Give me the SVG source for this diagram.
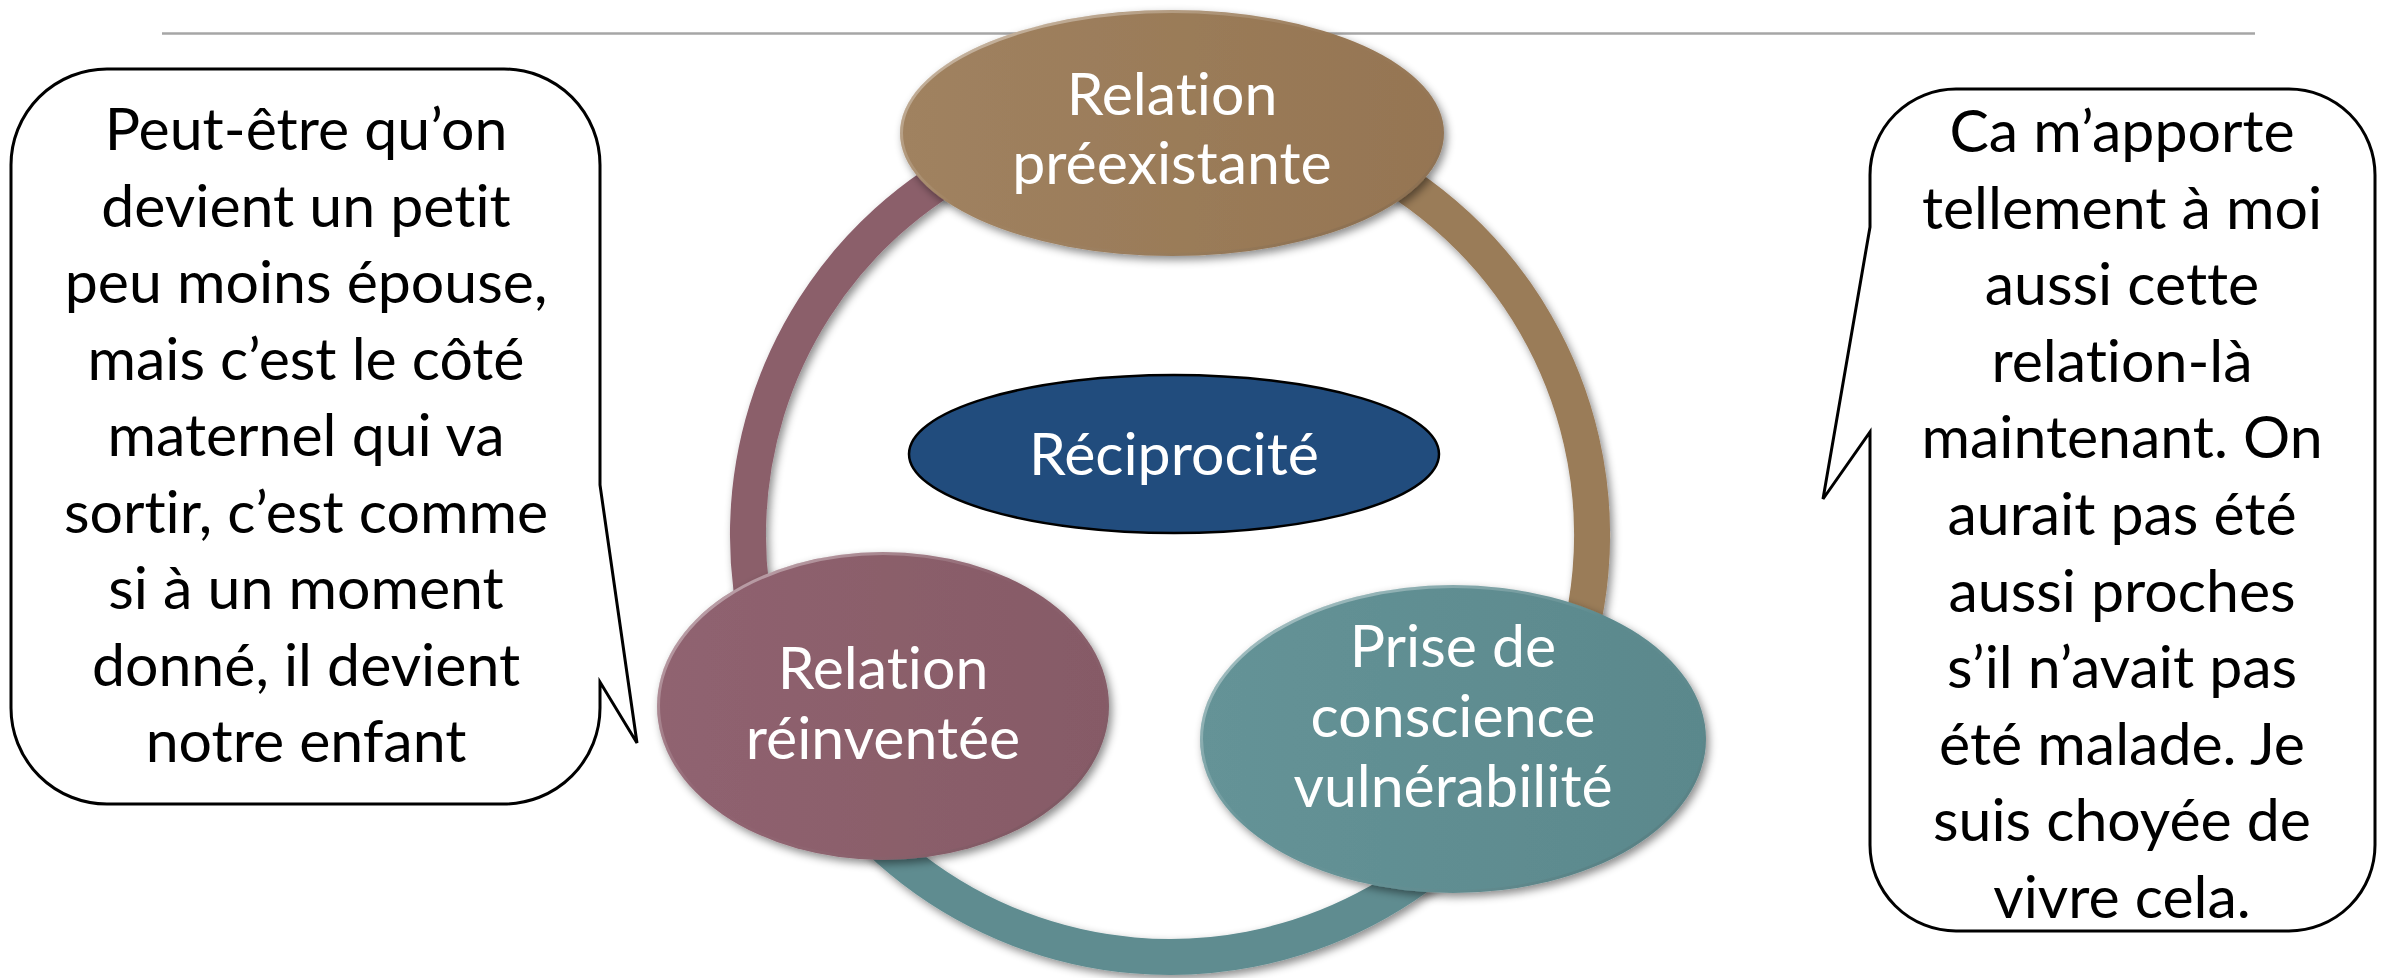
<svg xmlns="http://www.w3.org/2000/svg" width="2384" height="978" viewBox="0 0 2384 978">
<style>
.t{font-family:Lato,"Open Sans",sans-serif;font-size:59px;text-anchor:middle;font-variant-ligatures:none;font-feature-settings:"liga" 0,"clig" 0,"dlig" 0}
.blk{fill:#000}
.wht{fill:#fff}
.bubble{fill:#fff;stroke:#000;stroke-width:3;stroke-linejoin:miter}
.arc{fill:none;stroke-width:36;filter:url(#sh)}
.node{filter:url(#sh)}
.rim{fill:none;stroke:url(#rim);stroke-width:3}
</style>
<defs>
<filter id="sh" x="-20%" y="-20%" width="140%" height="140%">
<feDropShadow dx="3" dy="4" stdDeviation="4" flood-color="#000" flood-opacity="0.45"/>
</filter>
<linearGradient id="rim" x1="0" y1="0" x2="1" y2="1">
<stop offset="0" stop-color="#fff" stop-opacity="0.55"/>
<stop offset="0.45" stop-color="#fff" stop-opacity="0"/>
<stop offset="1" stop-color="#000" stop-opacity="0.15"/>
</linearGradient>
<linearGradient id="gBrown" x1="0" y1="0" x2="1" y2="0">
<stop offset="0" stop-color="#A08260"/>
<stop offset="1" stop-color="#957552"/>
</linearGradient>
<linearGradient id="gMauve" x1="0" y1="0" x2="1" y2="0">
<stop offset="0" stop-color="#906370"/>
<stop offset="1" stop-color="#865A66"/>
</linearGradient>
<linearGradient id="gTeal" x1="0" y1="0" x2="1" y2="0">
<stop offset="0" stop-color="#659397"/>
<stop offset="1" stop-color="#5A888C"/>
</linearGradient>
</defs>
<rect width="2384" height="978" fill="#fff"/>
<line x1="162" y1="33.5" x2="2255" y2="33.5" stroke="#A6A6A6" stroke-width="2.5"/>
<g id="connectors">
<path class="arc" stroke="#5E8C90" d="M 1535.5,746 A 422 422 0 0 1 773.5,679.3"/>
<path class="arc" stroke="#8B5E6B" d="M 804.5,746 A 422 422 0 0 1 1206.8,114.6"/>
<path class="arc" stroke="#9A7B58" d="M 1096.7,119.4 A 422 422 0 0 1 1493.3,806.3"/>
</g>
<g id="node-preexistante">
<ellipse class="node" cx="1172" cy="133" rx="272" ry="123" fill="url(#gBrown)"/>
<ellipse class="rim" cx="1172" cy="133" rx="270.5" ry="121.5"/>
<text class="t wht" x="1172" y="115">Relation</text>
<text class="t wht" x="1172" y="184">préexistante</text>
</g>
<g id="node-reinventee">
<ellipse class="node" cx="883" cy="706" rx="226" ry="154" fill="url(#gMauve)"/>
<ellipse class="rim" cx="883" cy="706" rx="224.5" ry="152.5"/>
<text class="t wht" x="883" y="689">Relation</text>
<text class="t wht" x="883" y="759">réinventée</text>
</g>
<g id="node-vulnerabilite">
<ellipse class="node" cx="1453" cy="739" rx="253" ry="154" fill="url(#gTeal)"/>
<ellipse class="rim" cx="1453" cy="739" rx="251.5" ry="152.5"/>
<text class="t wht" x="1453" y="667">Prise de</text>
<text class="t wht" x="1453" y="737">conscience</text>
<text class="t wht" x="1453" y="807">vulnérabilité</text>
</g>
<g id="node-reciprocite">
<ellipse cx="1174" cy="454" rx="265" ry="79" fill="#214C7D" stroke="#000" stroke-width="2.5"/>
<text class="t wht" x="1174" y="475">Réciprocité</text>
</g>
<g id="bubble-left">
<path class="bubble" d="M 107,69 H 504 A 96 96 0 0 1 600,165 V 485 L 637,743 L 600,682 V 708 A 96 96 0 0 1 504,804 H 107 A 96 96 0 0 1 11,708 V 165 A 96 96 0 0 1 107,69 Z"/>
<text class="t blk" x="306" y="150">Peut-être qu’on</text>
<text class="t blk" x="306" y="226.5">devient un petit</text>
<text class="t blk" x="306" y="303">peu moins épouse,</text>
<text class="t blk" x="306" y="379.5">mais c’est le côté</text>
<text class="t blk" x="306" y="456">maternel qui va</text>
<text class="t blk" x="306" y="532.5">sortir, c’est comme</text>
<text class="t blk" x="306" y="609">si à un moment</text>
<text class="t blk" x="306" y="685.5">donné, il devient</text>
<text class="t blk" x="306" y="762">notre enfant</text>
</g>
<g id="bubble-right">
<path class="bubble" d="M 1956,89 H 2289 A 86 86 0 0 1 2375,175 V 845 A 86 86 0 0 1 2289,931 H 1956 A 86 86 0 0 1 1870,845 V 432 L 1823,499 L 1870,227 V 175 A 86 86 0 0 1 1956,89 Z"/>
<text class="t blk" x="2122" y="152">Ca m’apporte</text>
<text class="t blk" x="2122" y="228.6">tellement à moi</text>
<text class="t blk" x="2122" y="305.2">aussi cette</text>
<text class="t blk" x="2122" y="381.8">relation-là</text>
<text class="t blk" x="2122" y="458.4">maintenant. On</text>
<text class="t blk" x="2122" y="535">aurait pas été</text>
<text class="t blk" x="2122" y="611.6">aussi proches</text>
<text class="t blk" x="2122" y="688.2">s’il n’avait pas</text>
<text class="t blk" x="2122" y="764.8">été malade. Je</text>
<text class="t blk" x="2122" y="841.4">suis choyée de</text>
<text class="t blk" x="2122" y="918">vivre cela.</text>
</g>
</svg>
